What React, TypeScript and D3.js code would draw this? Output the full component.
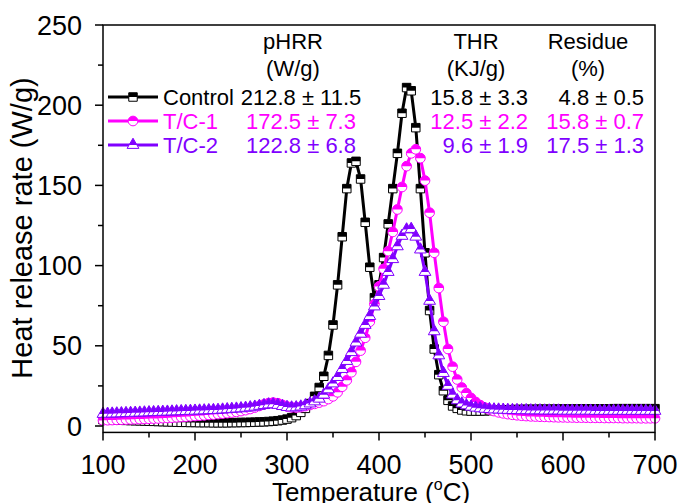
import React from 'react';
import * as d3 from 'd3';

// temperature (°C), one point every 5 degrees
const temperature = [
  100, 105, 110, 115, 120, 125, 130, 135, 140, 145, 150, 155, 160, 165, 170, 175, 180, 185, 190, 195,
  200, 205, 210, 215, 220, 225, 230, 235, 240, 245, 250, 255, 260, 265, 270, 275, 280, 285, 290, 295,
  300, 305, 310, 315, 320, 325, 330, 335, 340, 345, 350, 355, 360, 365, 370, 375, 380, 385, 390, 395,
  400, 405, 410, 415, 420, 425, 430, 435, 440, 445, 450, 455, 460, 465, 470, 475, 480, 485, 490, 495,
  500, 505, 510, 515, 520, 525, 530, 535, 540, 545, 550, 555, 560, 565, 570, 575, 580, 585, 590, 595,
  600, 605, 610, 615, 620, 625, 630, 635, 640, 645, 650, 655, 660, 665, 670, 675, 680, 685, 690, 695,
  700,
];

// heat release rate (W/g)
const controlHRR = [
  4.0, 3.9, 3.8, 3.7, 3.6, 3.5, 3.4, 3.3, 3.2, 3.1, 3.0, 2.9, 2.8, 2.7, 2.6, 2.5, 2.4, 2.3, 2.3, 2.2,
  2.2, 2.1, 2.1, 2.1, 2.0, 2.0, 2.0, 2.0, 2.1, 2.1, 2.2, 2.2, 2.3, 2.4, 2.5, 2.6, 2.8, 3.0, 3.3, 3.7,
  4.3, 5.2, 6.5, 8.5, 11, 14, 18.5, 24, 31, 44, 63, 88, 118, 148, 164, 165, 154, 127, 99, 80,
  88, 105, 126, 148, 170, 195, 211, 209, 186, 148, 108, 72, 48, 32, 22, 16, 12.5, 11, 10, 9.5,
  9.3, 9.3, 9.3, 9.4, 9.6, 9.8, 9.9, 10, 10.1, 10.2, 10.3, 10.3, 10.4, 10.4, 10.4, 10.5, 10.5, 10.5, 10.5, 10.6,
  10.6, 10.6, 10.6, 10.6, 10.7, 10.7, 10.7, 10.7, 10.7, 10.7, 10.7, 10.8, 10.8, 10.8, 10.8, 10.8, 10.8, 10.8, 10.8, 10.8,
  10.8,
];

const tc1HRR = [
  3.5, 3.6, 3.7, 3.8, 3.9, 4.0, 4.1, 4.2, 4.3, 4.4, 4.5, 4.6, 4.7, 4.9, 5.0, 5.2, 5.4, 5.6, 5.8, 6.0,
  6.2, 6.4, 6.6, 6.9, 7.1, 7.4, 7.7, 8.0, 8.4, 8.8, 9.3, 9.9, 10.6, 11.5, 12.5, 13.5, 14.3, 14.6, 14.2, 13.2,
  12.2, 11.6, 11.5, 11.8, 12.4, 13.1, 13.8, 14.6, 15.5, 16.8, 18.5, 21, 24.5, 28.5, 33.5, 40, 47, 55, 65, 76,
  87, 98, 109, 121, 135, 149, 162, 170, 172.5, 167, 153, 133, 108, 86, 65, 48, 37, 29, 24, 20.5,
  17.5, 15, 13, 11.5, 10.3, 9.3, 8.5, 7.9, 7.4, 7.0, 6.7, 6.4, 6.2, 6.0, 5.9, 5.8, 5.7, 5.6, 5.5, 5.4,
  5.4, 5.3, 5.3, 5.2, 5.2, 5.2, 5.1, 5.1, 5.1, 5.0, 5.0, 5.0, 5.0, 4.9, 4.9, 4.9, 4.9, 4.8, 4.8, 4.8,
  4.8,
];

const tc2HRR = [
  7.5, 7.6, 7.7, 7.8, 7.9, 8.0, 8.1, 8.2, 8.3, 8.4, 8.5, 8.6, 8.7, 8.8, 8.9, 9.0, 9.1, 9.2, 9.3, 9.4,
  9.5, 9.6, 9.7, 9.8, 9.9, 10.0, 10.2, 10.4, 10.6, 10.8, 11.0, 11.3, 11.6, 12.0, 12.5, 13.0, 13.4, 13.5, 13.1, 12.4,
  11.8, 11.5, 11.6, 12.1, 12.9, 14.0, 15.3, 17.0, 19.5, 22.8, 26.5, 30.5, 35.5, 40.5, 46, 52, 57.5, 63, 68.5, 74.5,
  81, 88, 96, 104, 112, 118.5, 122.5, 122.8, 118, 110, 96, 78, 59, 44, 33, 25, 19.5, 16, 14, 12.8,
  12, 11.4, 11, 10.7, 10.5, 10.3, 10.2, 10.1, 10.0, 9.9, 9.9, 9.8, 9.8, 9.7, 9.7, 9.7, 9.6, 9.6, 9.6, 9.6,
  9.5, 9.5, 9.5, 9.5, 9.5, 9.5, 9.5, 9.4, 9.4, 9.4, 9.4, 9.4, 9.4, 9.4, 9.4, 9.4, 9.4, 9.4, 9.4, 9.4,
  9.4,
];

const seriesNames = ['Control', 'T/C-1', 'T/C-2'];
const seriesColors = ['#000000', '#ff00ff', '#8000ff'];
const seriesShapes = ['square', 'circle', 'triangle'];
const pHRRText = ['212.8 ± 11.5', '172.5 ± 7.3', '122.8 ± 6.8'];
const thrText = ['15.8 ± 3.3', '12.5 ± 2.2', '9.6 ± 1.9'];
const residueText = ['4.8 ± 0.5', '15.8 ± 0.7', '17.5 ± 1.3'];

const xMajor = [100, 200, 300, 400, 500, 600, 700];
const xMinor = [150, 250, 350, 450, 550, 650];
const yMajor = [0, 50, 100, 150, 200, 250];
const yMinor = [25, 75, 125, 175, 225];

const W = 681;
const H = 503;
const FONT = '"Liberation Sans", Arial, sans-serif';

const x = d3.scaleLinear().domain([100, 700]).range([103, 655]);
const y = d3.scaleLinear().domain([0, 250]).range([426, 25]);
const yBottom = y(-4);

const symbols = {
  square: d3.symbol(d3.symbolSquare, 72)(),
  circle: d3.symbol(d3.symbolCircle, 74)(),
  triangle: d3.symbol(d3.symbolTriangle, 60)(),
};

// 上半部分填色，下半部分白色
const Marker = ({ shape, color, cx, cy }) => {
  const d = symbols[shape];
  return (
    <g transform={`translate(${cx},${cy})`}>
      <path d={d} fill="#fff" />
      <path d={d} fill={color} clipPath="url(#topHalf)" />
      <path d={d} fill="none" stroke={color} strokeWidth={1} />
    </g>
  );
};

const App = () => {
  const allSeries = [controlHRR, tc1HRR, tc2HRR];
  const line = d3.line<number>()
    .x((_, i) => x(temperature[i]))
    .y(v => y(v));

  const rowY = [97, 121, 145];

  return (
    <svg width={W} height={H} style={{ position: 'absolute', left: 0, top: 0, background: '#fff' }}
      fontFamily={FONT}>
      <defs>
        <clipPath id="topHalf">
          <rect x={-10} y={-10} width={20} height={10} />
        </clipPath>
      </defs>
      <rect width={W} height={H} fill="#fff" />

      {/* 曲线和标记 */}
      {allSeries.map((vals, s) => (
        <g key={s}>
          <path d={line(vals)} fill="none" stroke={seriesColors[s]} strokeWidth={3}
            strokeLinejoin="round" />
          {vals.map((v, i) => (
            <Marker key={i} shape={seriesShapes[s]} color={seriesColors[s]}
              cx={x(temperature[i])} cy={y(v)} />
          ))}
        </g>
      ))}

      {/* 边框 */}
      <rect x={x(100)} y={y(250)} width={x(700) - x(100)} height={yBottom - y(250)}
        fill="none" stroke="#000" strokeWidth={1.5} />

      {/* x 轴刻度 */}
      {xMajor.map(t => (
        <g key={t}>
          <line x1={x(t)} x2={x(t)} y1={yBottom} y2={yBottom + 8} stroke="#000" strokeWidth={1.5} />
          <text x={x(t)} y={474} textAnchor="middle" fontSize={27}>{t}</text>
        </g>
      ))}
      {xMinor.map(t => (
        <line key={t} x1={x(t)} x2={x(t)} y1={yBottom} y2={yBottom + 5} stroke="#000" strokeWidth={1.5} />
      ))}

      {/* y 轴刻度 */}
      {yMajor.map(v => (
        <g key={v}>
          <line x1={x(100) - 8} x2={x(100)} y1={y(v)} y2={y(v)} stroke="#000" strokeWidth={1.5} />
          <text x={82} y={y(v) + 9.5} textAnchor="end" fontSize={27}>{v}</text>
        </g>
      ))}
      {yMinor.map(v => (
        <line key={v} x1={x(100) - 5} x2={x(100)} y1={y(v)} y2={y(v)} stroke="#000" strokeWidth={1.5} />
      ))}

      {/* 轴标题 */}
      <text x={371} y={501} textAnchor="middle" fontSize={26}>
        Temperature (<tspan fontSize={16} dy={-11}>o</tspan><tspan dy={11}>C)</tspan>
      </text>
      <text transform={`translate(32,228) rotate(-90)`} textAnchor="middle" fontSize={29}>
        Heat release rate (W/g)
      </text>

      {/* 图例表头 */}
      <g fontSize={22} textAnchor="middle">
        <text x={293} y={49}>pHRR</text>
        <text x={293} y={76}>(W/g)</text>
        <text x={476} y={49}>THR</text>
        <text x={476} y={76}>(KJ/g)</text>
        <text x={588} y={49}>Residue</text>
        <text x={588} y={76}>(%)</text>
      </g>

      {/* 图例行 */}
      {seriesNames.map((name, s) => (
        <g key={name} fontSize={22} fill={seriesColors[s]}>
          <line x1={108} x2={158} y1={rowY[s]} y2={rowY[s]} stroke={seriesColors[s]} strokeWidth={3} />
          <Marker shape={seriesShapes[s]} color={seriesColors[s]} cx={133} cy={rowY[s]} />
          <text x={163} y={rowY[s] + 8}>{name}</text>
          <text x={301} y={rowY[s] + 8} textAnchor="middle">{pHRRText[s]}</text>
          <text x={528} y={rowY[s] + 8} textAnchor="end">{thrText[s]}</text>
          <text x={644} y={rowY[s] + 8} textAnchor="end">{residueText[s]}</text>
        </g>
      ))}
    </svg>
  );
};

export default App;
